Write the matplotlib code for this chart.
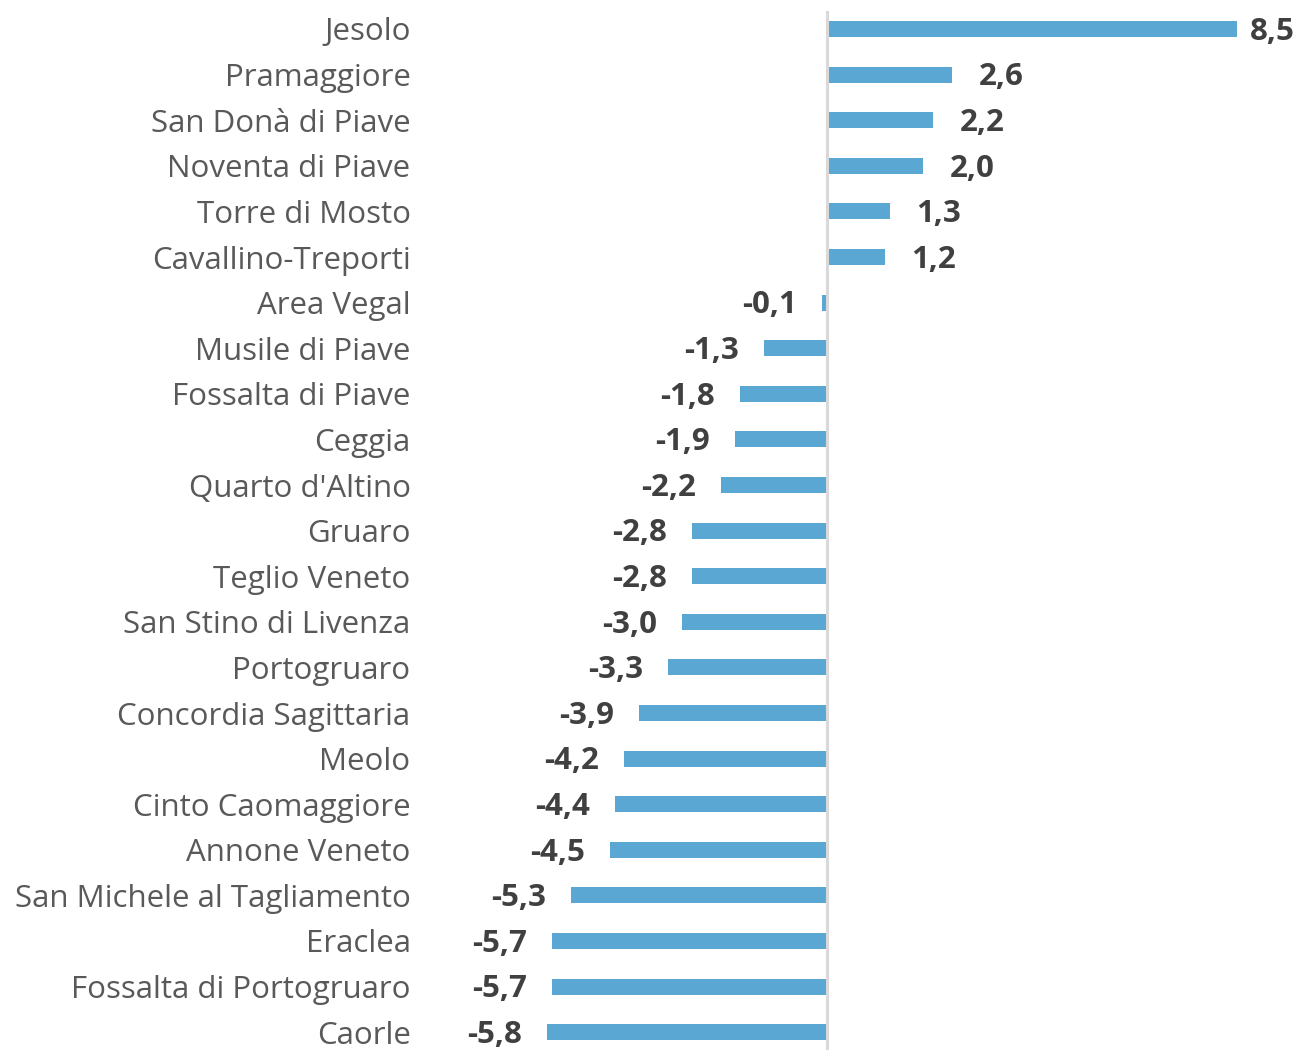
import matplotlib
matplotlib.use("Agg")
import matplotlib.pyplot as plt

# dati: variazione per comune
comuni = ["Jesolo", "Pramaggiore", "San Donà di Piave", "Noventa di Piave",
          "Torre di Mosto", "Cavallino-Treporti", "Area Vegal", "Musile di Piave",
          "Fossalta di Piave", "Ceggia", "Quarto d'Altino", "Gruaro",
          "Teglio Veneto", "San Stino di Livenza", "Portogruaro",
          "Concordia Sagittaria", "Meolo", "Cinto Caomaggiore", "Annone Veneto",
          "San Michele al Tagliamento", "Eraclea", "Fossalta di Portogruaro",
          "Caorle"]
valori = [8.5, 2.6, 2.2, 2.0, 1.3, 1.2, -0.1, -1.3, -1.8, -1.9, -2.2, -2.8,
          -2.8, -3.0, -3.3, -3.9, -4.2, -4.4, -4.5, -5.3, -5.7, -5.7, -5.8]

plt.rcParams['font.family'] = ['Open Sans', 'DejaVu Sans']

W, H = 1299, 1050
fig = plt.figure(figsize=(W / 100, H / 100), dpi=100)
ax = fig.add_axes([430 / W, 0, (W - 430) / W, 1])

scala = 48.24   # pixel per unità
riga = 45.6     # pixel per riga
top = 29        # centro della prima riga, pixel
ax.set_xlim((430 - 827) / scala, (W - 827) / scala)
ax.set_ylim((H - top) / riga, -top / riga)

pos = list(range(len(comuni)))
ax.barh(pos, valori, height=0.35, color='#5BA7D4', zorder=2)
ax.axvline(0, ymin=0, ymax=1 - 12 / H, color='#D9D9D9', lw=2.2, zorder=3)

# etichette dei valori
for i, v in enumerate(valori):
    testo = f"{v:.1f}".replace(".", ",")
    if v >= 0:
        dx = 9 if v > 8 else 19
        ax.annotate(testo, (v, i), xytext=(dx, -2), textcoords='offset points',
                    ha='left', va='center', fontsize=22.5, fontweight='bold',
                    color='#404040')
    else:
        ax.annotate(testo, (v, i), xytext=(-18, -2), textcoords='offset points',
                    ha='right', va='center', fontsize=22.5, fontweight='bold',
                    color='#404040')

ax.set_yticks(pos)
ax.set_yticklabels(comuni, fontsize=22.5, color='#595959')
ax.tick_params(axis='y', length=0, pad=14)
ax.set_xticks([])
for s in ax.spines.values():
    s.set_visible(False)

plt.savefig("out.png", dpi=100)
